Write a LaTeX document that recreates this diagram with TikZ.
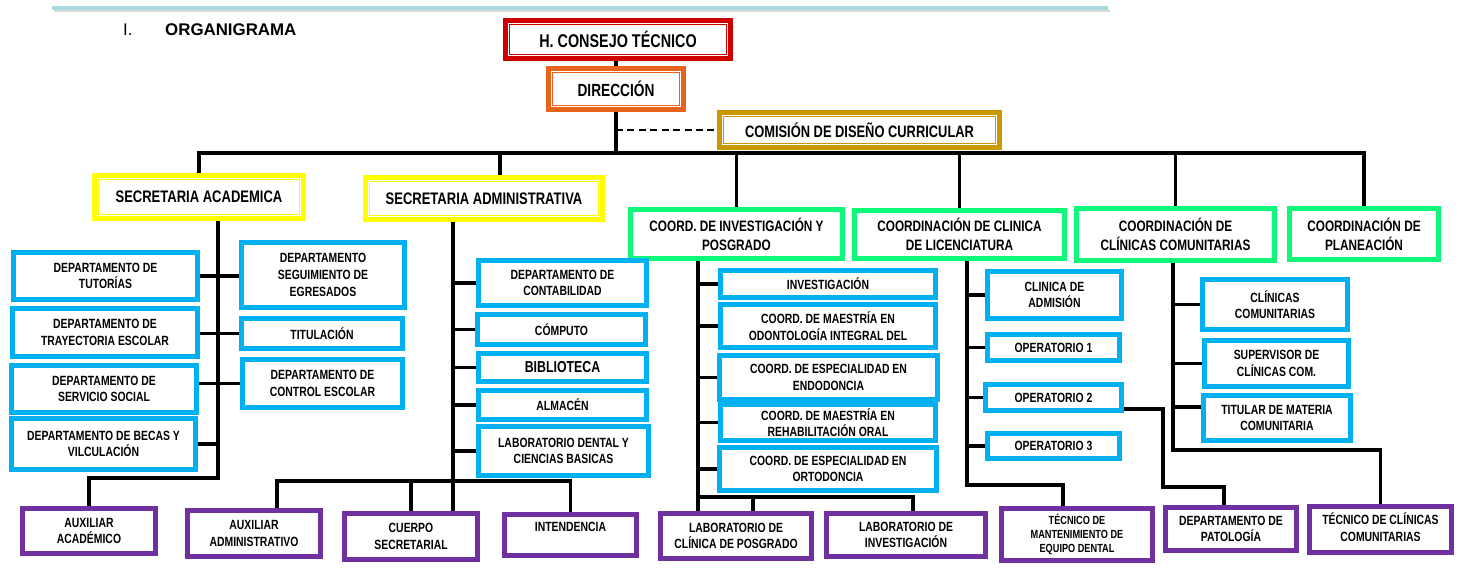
\documentclass[tikz,border=0pt]{standalone}
\usepackage{fontspec}
\setmainfont{Liberation Sans}
\newfontfamily\orgfont{Liberation Sans}[FakeStretch=0.78]
\newcommand\orgsize[2]{\fontsize{#1}{#2}\selectfont}

\definecolor{orgblue}{HTML}{00B0F0}
\definecolor{orggreen}{HTML}{10F87A}
\definecolor{orgpurple}{HTML}{7030A0}
\definecolor{orgyellow}{HTML}{FFFF00}
\definecolor{orgred}{HTML}{D00000}
\definecolor{orgorange}{HTML}{E8641B}
\definecolor{orggold}{HTML}{C99A00}
\definecolor{orgrule}{HTML}{A8D8E2}

\tikzset{
	box/.style={line width=0.1cm, align=center, inner sep=1pt, font=\orgfont\bfseries\orgsize{7.6}{9.5}},
	bluebox/.style={box, draw=orgblue},
	purplebox/.style={box, draw=orgpurple},
	greenbox/.style={box, draw=orggreen, font=\orgfont\bfseries\orgsize{8.6}{10.8}},
	% thick frame with a thin line inside
	headbox/.style={box, draw=#1, font=\orgfont\bfseries\orgsize{9.5}{11},
		path picture={\draw[#1, line width=0.6pt] ([shift={(2.3pt,-2.3pt)}]path picture bounding box.north west) rectangle ([shift={(-2.3pt,2.3pt)}]path picture bounding box.south east);}},
	link/.style={line width=1.8pt},
}

\begin{document}
\begin{tikzpicture}[x=0.02cm, y=-0.02cm]
		\useasboundingbox (0,0) rectangle (1460,580);
		
		% page rule and title
		\draw[line width=1pt, black!15] (54,11) -- (1110,11);
		\draw[line width=2.2pt, orgrule] (52,8) -- (1108,8);
		\node[anchor=west, font=\orgsize{9.6}{11}] (num) at (117,30) {I.};
		\node[anchor=west, font=\bfseries\orgsize{9.6}{11}] (title) at (159,30) {ORGANIGRAMA};
		
		% top
		\node[headbox=orgred, minimum width=4.5cm, minimum height=0.76cm, font=\orgfont\bfseries\orgsize{10.5}{12}] (cons) at (618,39.5) {H. CONSEJO TÉCNICO};
		\node[headbox=orgorange, minimum width=2.7cm, minimum height=0.82cm, font=\orgfont\bfseries\orgsize{10}{12}] (dir) at (616,89) {DIRECCIÓN};
		\node[headbox=orggold, minimum width=5.6cm, minimum height=0.7cm, font=\orgfont\bfseries\orgsize{9.4}{11}] (com) at (859.5,130) {COMISIÓN DE DISEÑO CURRICULAR};
		
		% secretarias
		\node[headbox=orgyellow, minimum width=4.18cm, minimum height=0.86cm] (sacad) at (199,197) {SECRETARIA ACADEMICA};
		\node[headbox=orgyellow, minimum width=4.74cm, minimum height=0.84cm] (sadm) at (484,198.5) {SECRETARIA ADMINISTRATIVA};
		
		% coordinaciones
		\node[greenbox, minimum width=4.24cm, minimum height=0.98cm] (cinv) at (736.5,234) {COORD. DE INVESTIGACIÓN Y\\POSGRADO};
		\node[greenbox, minimum width=4.2cm, minimum height=0.96cm] (clic) at (959.5,234.5) {COORDINACIÓN DE CLINICA\\DE LICENCIATURA};
		\node[greenbox, minimum width=3.96cm, minimum height=1.04cm] (ccom) at (1175.5,234.5) {COORDINACIÓN DE\\CLÍNICAS COMUNITARIAS};
		\node[greenbox, minimum width=2.98cm, minimum height=1.02cm] (cplan) at (1364,234) {COORDINACIÓN DE\\PLANEACIÓN};
		
		% secretaria academica
		\node[bluebox, minimum width=3.68cm, minimum height=0.94cm] (tut) at (105.5,276) {DEPARTAMENTO DE\\TUTORÍAS};
		\node[bluebox, minimum width=3.7cm, minimum height=0.96cm] (tray) at (105,332.5) {DEPARTAMENTO DE\\TRAYECTORIA ESCOLAR};
		\node[bluebox, minimum width=3.7cm, minimum height=0.94cm] (serv) at (104,389) {DEPARTAMENTO DE\\SERVICIO SOCIAL};
		\node[bluebox, minimum width=3.68cm, minimum height=1.02cm] (becas) at (103.5,444) {DEPARTAMENTO DE BECAS Y\\VILCULACIÓN};
		\node[bluebox, minimum width=3.26cm, minimum height=1.3cm] (seg) at (323,275) {DEPARTAMENTO\\SEGUIMIENTO DE\\EGRESADOS};
		\node[bluebox, minimum width=3.22cm, minimum height=0.6cm] (tit) at (322,333.5) {TITULACIÓN};
		\node[bluebox, minimum width=3.2cm, minimum height=0.96cm] (ctrl) at (322.5,383.5) {DEPARTAMENTO DE\\CONTROL ESCOLAR};
		
		% secretaria administrativa
		\node[bluebox, minimum width=3.36cm, minimum height=0.9cm] (cont) at (562.5,283) {DEPARTAMENTO DE\\CONTABILIDAD};
		\node[bluebox, minimum width=3.36cm, minimum height=0.6cm] (comp) at (561.5,329.5) {CÓMPUTO};
		\node[bluebox, minimum width=3.36cm, minimum height=0.56cm, font=\orgfont\bfseries\orgsize{9}{11}] (bib) at (562.5,367.5) {BIBLIOTECA};
		\node[bluebox, minimum width=3.36cm, minimum height=0.58cm] (alm) at (562.5,405) {ALMACÉN};
		\node[bluebox, minimum width=3.4cm, minimum height=0.98cm] (lab) at (563.5,451) {LABORATORIO DENTAL Y\\CIENCIAS BASICAS};
		
		% investigacion y posgrado
		\node[bluebox, minimum width=4.3cm, minimum height=0.54cm] (inv) at (828,284) {INVESTIGACIÓN};
		\node[bluebox, minimum width=4.3cm, minimum height=0.86cm] (odon) at (828,326) {COORD. DE MAESTRÍA EN\\ODONTOLOGÍA INTEGRAL DEL};
		\node[bluebox, minimum width=4.36cm, minimum height=0.88cm] (endo) at (828.5,377.5) {COORD. DE ESPECIALIDAD EN\\ENDODONCIA};
		\node[bluebox, minimum width=4.3cm, minimum height=0.72cm] (rehab) at (828,422.5) {COORD. DE MAESTRÍA EN\\REHABILITACIÓN ORAL};
		\node[bluebox, minimum width=4.34cm, minimum height=0.86cm] (orto) at (828,469) {COORD. DE ESPECIALIDAD EN\\ORTODONCIA};
		
		% clinica de licenciatura
		\node[bluebox, minimum width=2.68cm, minimum height=0.94cm] (adm) at (1054.5,295) {CLINICA DE\\ADMISIÓN};
		\node[bluebox, minimum width=2.64cm, minimum height=0.52cm] (op1) at (1053.5,347.5) {OPERATORIO 1};
		\node[bluebox, minimum width=2.72cm, minimum height=0.52cm] (op2) at (1053.5,397.5) {OPERATORIO 2};
		\node[bluebox, minimum width=2.64cm, minimum height=0.5cm] (op3) at (1053.5,446) {OPERATORIO 3};
		
		% clinicas comunitarias
		\node[bluebox, minimum width=2.9cm, minimum height=1cm] (clin) at (1275,304.5) {CLÍNICAS\\COMUNITARIAS};
		\node[bluebox, minimum width=2.88cm, minimum height=0.92cm] (sup) at (1276.5,363.5) {SUPERVISOR DE\\CLÍNICAS COM.};
		\node[bluebox, minimum width=2.94cm, minimum height=0.9cm] (tit2) at (1277,418) {TITULAR DE MATERIA\\COMUNITARIA};
		
		% bottom row
		\node[purplebox, minimum width=2.66cm, minimum height=0.9cm] (auxac) at (89,531) {AUXILIAR\\ACADÉMICO};
		\node[purplebox, minimum width=2.66cm, minimum height=0.92cm] (auxadm) at (254,533.5) {AUXILIAR\\ADMINISTRATIVO};
		\node[purplebox, minimum width=2.66cm, minimum height=0.92cm] (cuerpo) at (411,536.5) {CUERPO\\SECRETARIAL};
		\node[purplebox, minimum width=2.64cm, minimum height=0.82cm, text depth=9pt] (intend) at (570.5,535) {INTENDENCIA};
		\node[purplebox, minimum width=3.02cm, minimum height=0.9cm] (lcp) at (736,536) {LABORATORIO DE\\CLÍNICA DE POSGRADO};
		\node[purplebox, minimum width=3.18cm, minimum height=0.86cm] (linv) at (906,535) {LABORATORIO DE\\INVESTIGACIÓN};
		\node[purplebox, minimum width=3.02cm, minimum height=1.04cm, font=\orgfont\bfseries\orgsize{6.7}{8.2}] (tecm) at (1077,534.5) {TÉCNICO DE\\MANTENIMIENTO DE\\EQUIPO DENTAL};
		\node[purplebox, minimum width=2.62cm, minimum height=0.86cm] (pat) at (1231,529) {DEPARTAMENTO DE\\PATOLOGÍA};
		\node[purplebox, minimum width=2.84cm, minimum height=0.92cm, text depth=3pt] (tecc) at (1380.5,529.5) {TÉCNICO DE CLÍNICAS\\COMUNITARIAS};
		
		% main lines
		\coordinate (bus) at (616,153);
		\draw[link] (dir.north |- cons.south) -- (dir.north);
		\draw[link] (dir.south) -- (bus);
		\draw[link] (sacad.north) |- (bus) -| (cplan.north);
		\draw[link] ([xshift=0.32cm]sadm.north) -- ([xshift=0.32cm]sadm.north |- bus);
		\foreach \n in {cinv,clic,ccom}
			\draw[link] (\n.north) -- (\n.north |- bus);
		\draw[link, line width=1.1pt, dash pattern=on 4pt off 2.5pt] (dir.south |- com.west) -- (com.west);
		
		% secretaria academica
		\coordinate (satr) at (218,478);
		\draw[link] (sacad.south -| satr) -- (satr) -| (auxac.north);
		\draw[link] (tut.east) -- (tut.east -| seg.west);
		\draw[link] (tit.west) -- (tit.west -| tray.east);
		\draw[link] (ctrl.west) -- (ctrl.west -| serv.east);
		\draw[link] (becas.east) -- (becas.east -| satr);
		
		% secretaria administrativa
		\coordinate (sadmtr) at (453,481);
		\draw[link] (sadm.south -| sadmtr) -- (cuerpo.north -| sadmtr);
		\foreach \n in {cont,comp,bib,alm,lab}
			\draw[link] (\n.west) -- (\n.west -| sadmtr);
		\draw[link] ([xshift=0.46cm]auxadm.north) |- (sadmtr) -| (intend.north);
		\draw[link] (cuerpo.north) -- (cuerpo.north |- sadmtr);
		
		% investigacion y posgrado
		\coordinate (citr) at (698,497);
		\draw[link] (cinv.south -| citr) -- (lcp.north -| citr);
		\foreach \n in {inv,odon,endo,rehab,orto}
			\draw[link] (\n.west) -- (\n.west -| citr);
		\draw[link] (citr) -| ([xshift=0.14cm]linv.north);
		\draw[link] ([xshift=0.34cm]lcp.north) -- ([xshift=0.34cm]lcp.north |- citr);
		
		% clinica de licenciatura
		\coordinate (cltr) at (967,485);
		\draw[link] (clic.south -| cltr) -- (cltr) -| ([xshift=-0.28cm]tecm.north);
		\foreach \n in {adm,op1,op2,op3}
			\draw[link] (\n.west) -- (\n.west -| cltr);
		\coordinate (patbend) at (1163,487);
		\draw[link] ([yshift=-0.23cm]op2.east) -| (patbend) -| ([xshift=-0.14cm]pat.north);
		
		% clinicas comunitarias
		\coordinate (cctr) at (1173,450);
		\draw[link] (ccom.south -| cctr) -- (cctr) -| (tecc.north);
		\foreach \n in {clin,sup}
			\draw[link] (\n.west) -- (\n.west -| cctr);
		\draw[link] ([yshift=0.22cm]tit2.west) -- ([yshift=0.22cm]tit2.west -| cctr);
	\end{tikzpicture}
\end{document}
